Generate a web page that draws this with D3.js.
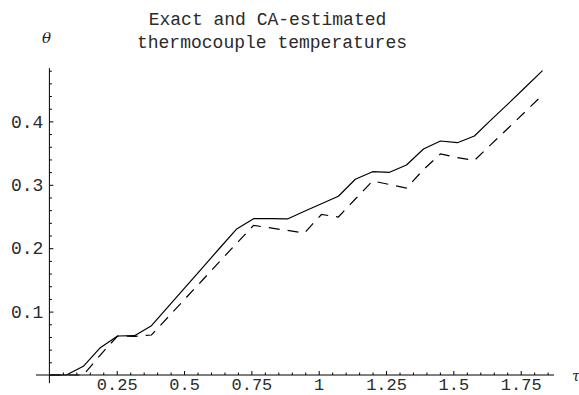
<!DOCTYPE html>
<html>
<head>
<meta charset="utf-8">
<script src="https://cdn.jsdelivr.net/npm/d3@7"></script>
<style>
  html, body { margin: 0; padding: 0; background: #fff; }
  svg { display: block; }
</style>
</head>
<body>
<svg id="chart" width="579" height="395"></svg>
<script>
// ---- data ----
const titleLines = ["Exact and CA-estimated", "thermocouple temperatures"];
const tau = [0, 0.063, 0.126, 0.189, 0.253, 0.316, 0.379, 0.442, 0.505, 0.568,
             0.631, 0.694, 0.758, 0.821, 0.884, 0.947, 1.010, 1.073, 1.136, 1.200,
             1.263, 1.326, 1.389, 1.452, 1.515, 1.578, 1.641, 1.705, 1.768, 1.831];
const exactTheta = [0, 0, 0.0137, 0.0431, 0.0615, 0.062, 0.0778, 0.1082, 0.1386, 0.169,
                    0.1995, 0.2298, 0.2465, 0.2468, 0.2461, 0.2583, 0.2701, 0.2819, 0.3087, 0.3207,
                    0.3197, 0.3312, 0.3565, 0.3691, 0.3664, 0.377, 0.4028, 0.4285, 0.4543, 0.48];
const caTheta = [0, 0, 0, 0.0315, 0.0615, 0.061, 0.0631, 0.0919, 0.1207, 0.1495,
                 0.1784, 0.2072, 0.236, 0.232, 0.228, 0.224, 0.2532, 0.2492, 0.2776, 0.306,
                 0.3005, 0.295, 0.324, 0.3486, 0.343, 0.3383, 0.3641, 0.39, 0.4158, 0.4416];
const xMajorTicks = [0.25, 0.5, 0.75, 1, 1.25, 1.5, 1.75];
const xMinorTicks = [0.05, 0.1, 0.15, 0.2, 0.3, 0.35, 0.4, 0.45, 0.55, 0.6, 0.65, 0.7,
                     0.8, 0.85, 0.9, 0.95, 1.05, 1.1, 1.15, 1.2, 1.3, 1.35, 1.4, 1.45,
                     1.55, 1.6, 1.65, 1.7, 1.8, 1.85];
const yMajorTicks = [0.1, 0.2, 0.3, 0.4];
const yMinorTicks = [0.02, 0.04, 0.06, 0.08, 0.12, 0.14, 0.16, 0.18, 0.22, 0.24, 0.26, 0.28,
                     0.32, 0.34, 0.36, 0.38, 0.42, 0.44, 0.46, 0.48];
const xExtent = [-0.05, 1.874];
const yExtent = [-0.013, 0.484];

// ---- drawing ----
const svg = d3.select("#chart");
const mono = "'Liberation Mono', 'Courier New', monospace";

const x = d3.scaleLinear().domain([0, 1.75]).range([49.4, 520.7]);
const y = d3.scaleLinear().domain([0, 0.4]).range([375, 121.4]);

// title
svg.selectAll("text.title").data(titleLines).enter().append("text")
  .attr("class", "title")
  .attr("x", (d, i) => i === 0 ? 267.5 : 272)
  .attr("y", (d, i) => 24.5 + i * 23)
  .attr("text-anchor", "middle")
  .style("font-family", mono)
  .style("font-size", "18px")
  .style("fill", "#2a2a2a")
  .text(d => d);

// axes lines
svg.append("line")
  .attr("x1", x(xExtent[0])).attr("x2", x(xExtent[1]))
  .attr("y1", y(0)).attr("y2", y(0))
  .attr("stroke", "#000").attr("stroke-width", 1);
svg.append("line")
  .attr("x1", x(0)).attr("x2", x(0))
  .attr("y1", y(yExtent[0])).attr("y2", y(yExtent[1]))
  .attr("stroke", "#000").attr("stroke-width", 1);

function styleAxis(g, fs) {
  g.select(".domain").remove();
  g.selectAll(".tick line").attr("stroke", "#000").attr("stroke-width", 1);
  g.selectAll(".tick text")
    .style("font-family", mono)
    .style("font-size", fs)
    .style("fill", "#2a2a2a");
}

svg.append("g").attr("transform", `translate(0,${y(0)})`)
  .call(d3.axisBottom(x).tickValues(xMajorTicks).tickSize(-4).tickPadding(2.5)
        .tickFormat(d => String(d)))
  .call(styleAxis, "17px");
svg.append("g").attr("transform", `translate(0,${y(0)})`)
  .call(d3.axisBottom(x).tickValues(xMinorTicks).tickSize(-2.5).tickFormat(""))
  .call(styleAxis, "17px");

svg.append("g").attr("transform", `translate(${x(0)},0)`)
  .call(d3.axisLeft(y).tickValues(yMajorTicks).tickSize(-4).tickPadding(6)
        .tickFormat(d => String(d)))
  .call(styleAxis, "18px");
svg.append("g").attr("transform", `translate(${x(0)},0)`)
  .call(d3.axisLeft(y).tickValues(yMinorTicks).tickSize(-2.5).tickFormat(""))
  .call(styleAxis, "18px");

// axis labels
svg.append("text")
  .attr("x", 42).attr("y", 43)
  .style("font-family", "'DejaVu Serif', serif")
  .style("font-style", "italic")
  .style("font-size", "15px")
  .style("fill", "#222")
  .text("\u03B8");
svg.append("text")
  .attr("x", 572).attr("y", 381)
  .style("font-family", "'DejaVu Serif', serif")
  .style("font-style", "italic")
  .style("font-size", "14px")
  .style("fill", "#222")
  .text("\u03C4");

// curves
const lineGen = vals => d3.line().x((d, i) => x(tau[i])).y(d => y(d))(vals);

svg.append("path")
  .attr("d", lineGen(exactTheta))
  .attr("fill", "none").attr("stroke", "#000").attr("stroke-width", 1.2)
  .attr("stroke-linejoin", "round");
svg.append("path")
  .attr("d", lineGen(caTheta))
  .attr("fill", "none").attr("stroke", "#000").attr("stroke-width", 1.2)
  .attr("stroke-dasharray", "11,8");
</script>
</body>
</html>
